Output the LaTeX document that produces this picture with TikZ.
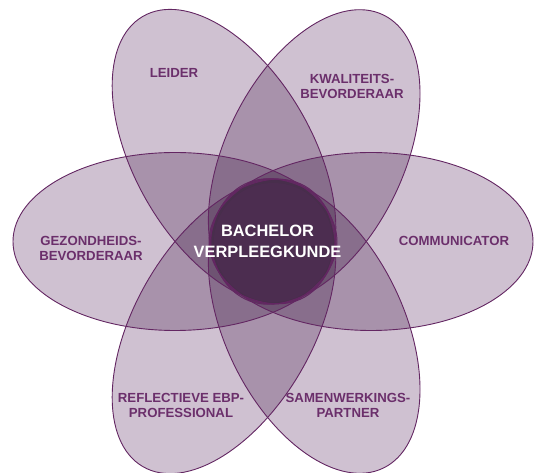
\documentclass[tikz,border=0pt]{standalone}
\usepackage{fontspec}
\setmainfont{Liberation Sans}
\definecolor{petal}{RGB}{207,193,209}
\definecolor{edge}{RGB}{99,38,98}
\definecolor{lbl}{RGB}{107,47,107}
\definecolor{core}{RGB}{76,45,80}
% #1,#2 centre, #3 angle, #4 a, #5 b
\newcommand\petalfill[5]{\fill[petalstyle, rotate around={#3:(#1,#2)}] (#1,#2) ellipse [x radius=#4, y radius=#5];}
\newcommand\petaledge[5]{\draw[edgestyle, rotate around={#3:(#1,#2)}] (#1,#2) ellipse [x radius=#4, y radius=#5];}
\begin{document}
\begin{tikzpicture}[x=1pt,y=-1pt,
  petalstyle/.style={fill=petal, blend mode=multiply},
  edgestyle/.style={draw=edge, line width=0.9pt},
  lab/.style={text=lbl, font=\fontsize{13.2}{15}\selectfont\bfseries, align=center, inner sep=0pt},
  corelab/.style={text=white, font=\fontsize{16.4}{21}\selectfont\bfseries, align=center, inner sep=0pt}]
\useasboundingbox (0,0) rectangle (539,473);
% fills
\petalfill{371}{241.5}{0}{162}{89}
\petalfill{175}{241.5}{0}{162}{89}
\petalfill{314.2}{157.0}{64}{158}{89}
\petalfill{224}{156.6}{120}{162}{89}
\petalfill{224}{326.4}{240}{162}{89}
\petalfill{314.2}{326.0}{296}{158}{89}
% outlines
\petaledge{371}{241.5}{0}{162}{89}
\petaledge{175}{241.5}{0}{162}{89}
\petaledge{314.2}{157.0}{64}{158}{89}
\petaledge{224}{156.6}{120}{162}{89}
\petaledge{224}{326.4}{240}{162}{89}
\petaledge{314.2}{326.0}{296}{158}{89}
% core
\fill[core] (273.3,242.5) circle (59.5);
\draw[edgestyle, line width=1pt] (273.3,241.3) circle (62.5);
% labels
\node[lab] (leider) at (174,72.5) {LEIDER};
\node[lab] (kwal) at (352,86.5) {KWALITEITS-\\BEVORDERAAR};
\node[lab] (gez) at (91,248) {GEZONDHEIDS-\\BEVORDERAAR};
\node[lab] (comm) at (454,240.5) {COMMUNICATOR};
\node[lab] (refl) at (181,405.5) {REFLECTIEVE EBP-\\PROFESSIONAL};
\node[lab] (samen) at (348,405.5) {SAMENWERKINGS-\\PARTNER};
\node[corelab] (centre) at (267.5,241.7) {BACHELOR\\VERPLEEGKUNDE};
\end{tikzpicture}
\end{document}
